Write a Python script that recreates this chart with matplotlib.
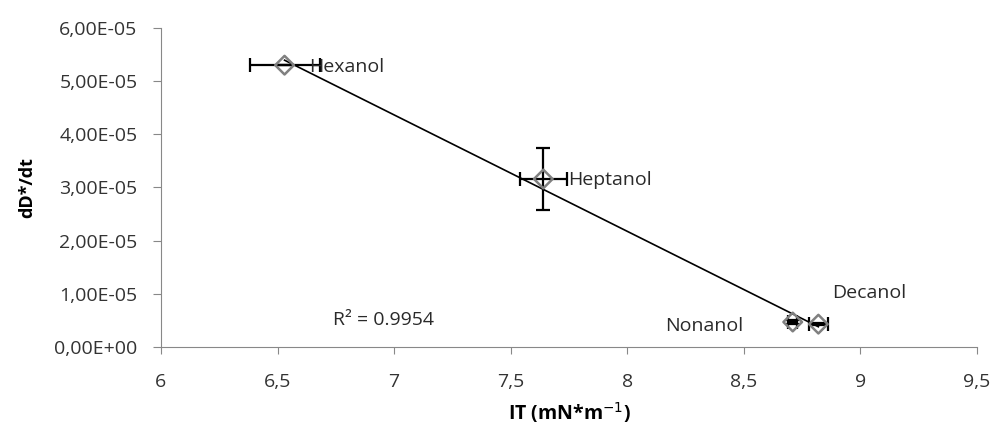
import numpy as np
import matplotlib.pyplot as plt
from matplotlib.ticker import FuncFormatter

plt.rcParams["font.family"] = ["Open Sans", "DejaVu Sans"]

alcohols = ["Hexanol", "Heptanol", "Nonanol", "Decanol"]
it_values = [6.53, 7.64, 8.71, 8.82]
it_err = [0.15, 0.10, 0.02, 0.04]
rate_values = [5.3e-5, 3.16e-5, 0.47e-5, 0.43e-5]
rate_err = [0.0, 0.58e-5, 0.04e-5, 0.02e-5]
r_squared = "R² = 0.9954"

fig = plt.figure(figsize=(9.95, 4.3), dpi=100)
ax = fig.add_axes([0.1618, 0.193, 0.820, 0.742])

# linear trendline
slope, intercept = np.polyfit(it_values, rate_values, 1)
xs = np.array([min(it_values), max(it_values)])
ax.plot(xs, slope * xs + intercept, color="black", lw=1.2, zorder=2)

ax.errorbar(it_values, rate_values, xerr=it_err, yerr=rate_err, fmt="none",
            ecolor="black", elinewidth=1.6, capsize=5, capthick=1.6, zorder=3)
ax.scatter(it_values, rate_values, marker="D", s=90, facecolors="none",
           edgecolors="#808080", linewidths=1.8, zorder=4)

label_pos = {
    "Hexanol": (6.635, 5.26e-5),
    "Heptanol": (7.746, 3.14e-5),
    "Nonanol": (8.162, 0.39e-5),
    "Decanol": (8.879, 1.01e-5),
}
for name in alcohols:
    x, y = label_pos[name]
    ax.text(x, y, name, fontsize=14, ha="left", va="center", color="#2a2a2a")

ax.text(6.738, 0.51e-5, r_squared, fontsize=14, ha="left", va="center", color="#2a2a2a")

ax.set_xlim(6, 9.5)
ax.set_ylim(0, 6e-5)
ax.set_xticks(np.arange(6, 9.51, 0.5))
ax.set_yticks(np.arange(0, 6.01e-5, 1e-5))
ax.xaxis.set_major_formatter(FuncFormatter(lambda v, p: f"{v:g}".replace(".", ",")))
ax.yaxis.set_major_formatter(FuncFormatter(lambda v, p: f"{v:.2E}".replace(".", ",")))
ax.tick_params(labelsize=14, colors="#333333", color="#888888")
ax.tick_params(axis="x", length=5, pad=14)
ax.tick_params(axis="y", length=6, pad=11)
for side in ["top", "right"]:
    ax.spines[side].set_visible(False)
for side in ["left", "bottom"]:
    ax.spines[side].set_color("#888888")

ax.set_xlabel("IT (mN*m$^{-1}$)", fontsize=14, fontweight="bold", labelpad=6)
ax.set_ylabel("dD*/dt", fontsize=13, fontweight="bold", labelpad=13)

fig.savefig("out.png", dpi=100)
